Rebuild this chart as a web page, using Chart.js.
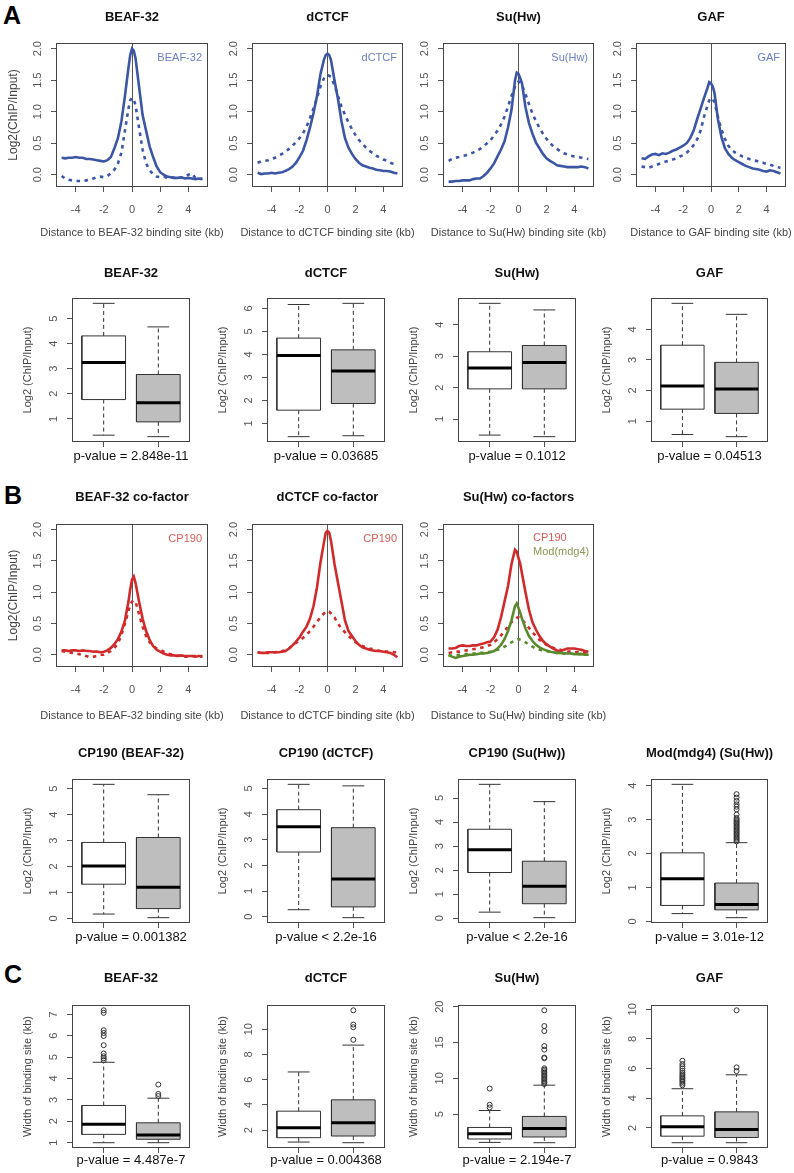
<!DOCTYPE html>
<html>
<head>
<meta charset="utf-8">
<title>Insulator binding profiles</title>
<script src="https://cdn.jsdelivr.net/npm/chart.js@4.4.1/dist/chart.umd.min.js"></script>
<style>
  html, body { margin: 0; padding: 0; background: #fff; }
  body { position: relative; width: 794px; height: 1173px; overflow: hidden; }
  canvas { position: absolute; }
  .panel-tag { position: absolute; font: bold 25px/25px "Liberation Sans", Arial, sans-serif; color: #000; }
</style>
</head>
<body>
<div class="panel-tag" style="left:3px;top:3px">A</div>
<div class="panel-tag" style="left:4px;top:483px">B</div>
<div class="panel-tag" style="left:4px;top:962px">C</div>
<script>
// ---------- data ----------
// distance to the binding site (kb)
const distKb = [-5,-4.75,-4.5,-4.25,-4,-3.75,-3.5,-3.25,-3,-2.75,-2.5,-2.25,-2,-1.75,-1.5,-1.25,-1,-0.75,-0.5,-0.25,
  -0.125,0,0.125,
  0.25,0.5,0.75,1,1.25,1.5,1.75,2,2.25,2.5,2.75,3,3.25,3.5,3.75,4,4.25,4.5,4.75,5];

// A: insulator profiles (solid / dotted)
const beafSolid = [0.27,0.26,0.27,0.27,0.28,0.27,0.27,0.25,0.25,0.24,0.23,0.22,0.21,0.23,0.28,0.42,0.58,0.85,1.25,1.7,1.9,2.0,1.97,1.85,1.4,0.95,0.7,0.45,0.28,0.13,0.04,0.0,-0.03,-0.04,-0.05,-0.05,-0.04,-0.06,-0.05,-0.06,-0.07,-0.06,-0.07];
const beafDotted = [-0.02,-0.06,-0.08,-0.09,-0.1,-0.1,-0.1,-0.09,-0.08,-0.06,-0.04,-0.03,-0.04,-0.02,0.02,0.08,0.18,0.35,0.7,1.05,1.18,1.22,1.2,1.1,0.75,0.4,0.18,0.07,0.01,-0.03,-0.04,-0.03,-0.05,-0.04,-0.05,-0.04,-0.05,-0.03,0.0,0.02,-0.05,-0.07,-0.06];
const ctcfSolid = [0.03,0.01,0.02,0.02,0.03,0.02,0.03,0.04,0.06,0.09,0.13,0.19,0.28,0.38,0.55,0.75,0.98,1.25,1.6,1.83,1.9,1.92,1.9,1.82,1.5,1.2,0.85,0.58,0.43,0.33,0.25,0.19,0.15,0.13,0.11,0.1,0.08,0.07,0.06,0.06,0.05,0.03,0.02];
const ctcfDotted = [0.19,0.21,0.22,0.23,0.25,0.27,0.3,0.33,0.37,0.41,0.46,0.52,0.58,0.66,0.76,0.9,1.05,1.22,1.4,1.53,1.57,1.58,1.57,1.55,1.42,1.25,1.08,0.95,0.83,0.72,0.63,0.55,0.49,0.43,0.38,0.34,0.3,0.27,0.24,0.22,0.19,0.17,0.15];
const suhwSolid = [-0.11,-0.11,-0.1,-0.1,-0.09,-0.09,-0.09,-0.07,-0.06,-0.06,-0.02,0.03,0.1,0.18,0.29,0.4,0.53,0.75,1.03,1.5,1.62,1.6,1.53,1.45,1.07,0.82,0.65,0.51,0.42,0.33,0.26,0.22,0.19,0.15,0.14,0.13,0.12,0.12,0.12,0.12,0.13,0.12,0.1];
const suhwDotted = [0.22,0.25,0.27,0.28,0.3,0.31,0.33,0.35,0.38,0.41,0.45,0.5,0.55,0.62,0.7,0.8,0.92,1.08,1.25,1.4,1.45,1.48,1.46,1.42,1.28,1.12,0.97,0.85,0.74,0.65,0.57,0.5,0.45,0.41,0.37,0.34,0.32,0.3,0.29,0.28,0.27,0.26,0.25];
const gafSolid = [0.26,0.25,0.29,0.32,0.33,0.31,0.34,0.33,0.35,0.38,0.4,0.43,0.46,0.5,0.58,0.7,0.88,1.05,1.22,1.38,1.47,1.45,1.4,1.3,0.88,0.6,0.42,0.33,0.27,0.23,0.2,0.17,0.14,0.12,0.1,0.09,0.08,0.06,0.05,0.07,0.06,0.04,0.02];
const gafDotted = [0.13,0.12,0.11,0.13,0.15,0.17,0.19,0.21,0.22,0.24,0.26,0.29,0.31,0.35,0.4,0.47,0.56,0.7,0.92,1.1,1.18,1.22,1.2,1.15,0.92,0.72,0.57,0.46,0.39,0.35,0.32,0.29,0.27,0.25,0.23,0.22,0.2,0.19,0.17,0.16,0.14,0.12,0.11];

// B: co-factor profiles
const cpBeafSolid = [0.07,0.07,0.06,0.07,0.07,0.06,0.07,0.06,0.06,0.05,0.05,0.04,0.05,0.07,0.11,0.17,0.25,0.37,0.55,0.85,1.05,1.2,1.25,1.15,0.85,0.58,0.38,0.24,0.14,0.08,0.05,0.02,0.0,-0.01,-0.01,-0.02,-0.01,-0.02,-0.02,-0.02,-0.03,-0.02,-0.02];
const cpBeafDotted = [0.06,0.05,0.04,0.03,0.02,0.01,0.0,-0.02,-0.04,-0.03,-0.02,0.0,0.0,0.03,0.06,0.11,0.18,0.32,0.5,0.7,0.8,0.85,0.87,0.85,0.65,0.45,0.3,0.2,0.15,0.1,0.08,0.05,0.02,0.01,0.0,-0.01,-0.02,-0.03,-0.03,-0.02,-0.02,-0.03,-0.03];
const cpCtcfSolid = [0.04,0.03,0.03,0.04,0.04,0.04,0.04,0.05,0.06,0.1,0.15,0.21,0.28,0.37,0.45,0.58,0.78,1.08,1.48,1.8,1.95,1.98,1.95,1.82,1.45,1.15,0.85,0.55,0.38,0.3,0.22,0.16,0.12,0.1,0.08,0.07,0.06,0.06,0.05,0.04,0.03,0.0,-0.04];
const cpCtcfDotted = [0.04,0.03,0.03,0.03,0.03,0.04,0.05,0.06,0.07,0.1,0.15,0.19,0.23,0.27,0.32,0.38,0.45,0.53,0.6,0.66,0.69,0.7,0.69,0.66,0.6,0.5,0.42,0.36,0.3,0.25,0.2,0.17,0.14,0.12,0.1,0.09,0.07,0.06,0.06,0.05,0.05,0.04,0.04];
const cpSuhwSolid = [0.1,0.1,0.11,0.14,0.15,0.14,0.14,0.15,0.15,0.17,0.18,0.2,0.21,0.28,0.4,0.6,0.85,1.1,1.45,1.68,1.65,1.55,1.45,1.3,1.0,0.72,0.52,0.4,0.3,0.22,0.17,0.13,0.1,0.07,0.06,0.08,0.1,0.1,0.1,0.09,0.08,0.06,0.05];
const cpSuhwDotted = [0.03,0.04,0.05,0.05,0.06,0.07,0.08,0.09,0.1,0.11,0.12,0.14,0.16,0.2,0.25,0.31,0.38,0.45,0.52,0.57,0.59,0.6,0.59,0.56,0.5,0.43,0.36,0.3,0.24,0.2,0.16,0.13,0.11,0.09,0.08,0.06,0.05,0.05,0.04,0.04,0.03,0.03,0.02];
const modSuhwSolid = [0.0,-0.03,-0.05,-0.03,-0.02,-0.01,0.0,0.0,0.01,0.02,0.02,0.03,0.04,0.06,0.1,0.16,0.25,0.38,0.55,0.78,0.82,0.75,0.67,0.58,0.42,0.3,0.22,0.16,0.12,0.09,0.07,0.05,0.04,0.03,0.03,0.02,0.02,0.02,0.01,0.01,0.01,0.0,0.0];
const modSuhwDotted = [-0.02,-0.01,-0.01,0.0,0.0,0.01,0.01,0.02,0.02,0.03,0.03,0.04,0.05,0.06,0.08,0.1,0.13,0.16,0.2,0.23,0.24,0.25,0.24,0.23,0.2,0.16,0.13,0.1,0.08,0.07,0.06,0.05,0.04,0.03,0.03,0.02,0.02,0.02,0.01,0.01,0.01,0.0,0.0];

const profileTicks = [0, 0.5, 1, 1.5, 2];
const distTicks = [-4, -2, 0, 2, 4];

// boxplots: [lower whisker, Q1, median, Q3, upper whisker] for the white and grey box
const sigBeaf = [[0.35,1.77,3.25,4.31,5.61],[0.29,0.88,1.64,2.77,4.67]];
const sigCtcf = [[0.43,1.58,3.96,4.71,6.17],[0.47,1.87,3.28,4.2,6.22]];
const sigSuhw = [[0.49,1.96,2.62,3.14,4.68],[0.44,1.96,2.8,3.34,4.47]];
const sigGaf = [[0.56,1.39,2.15,3.48,4.85],[0.49,1.25,2.05,2.92,4.49]];
const sigBeafTicks = [1,2,3,4,5];
const sigCtcfTicks = [1,2,3,4,5,6];
const sigSuhwTicks = [1,2,3,4];
const sigGafTicks = [1,2,3,4];

const cpBeaf = [[0.17,1.32,2.02,2.93,5.17],[0.03,0.38,1.2,3.12,4.77]];
const cpCtcf = [[0.27,2.52,3.51,4.17,5.16],[-0.04,0.38,1.47,3.47,5.1]];
const cpSuhw = [[0.25,1.9,2.85,3.7,5.57],[0.02,0.6,1.33,2.37,4.85]];
const modSuhw = [[0.23,0.47,1.26,2.02,4.04],[0.11,0.34,0.5,1.13,2.32]];
const modSuhwOut = [[],[2.36,2.4,2.44,2.48,2.52,2.56,2.6,2.64,2.68,2.72,2.76,2.8,2.84,2.88,2.92,2.96,3.0,3.05,3.15,3.3,3.38,3.45,3.55,3.65,3.75]];
const cpTicks = [0,1,2,3,4,5];
const modTicks = [0,1,2,3,4];

const widthBeaf = [[1.0,1.39,1.86,2.74,4.76],[1.0,1.16,1.36,1.93,3.08]];
const widthBeafOut = [[4.86,4.95,5.04,5.17,5.56,5.99,6.13,6.26,7.07,7.19],[3.18,3.28,3.72]];
const widthCtcf = [[1.05,1.4,2.19,3.5,6.61],[1.0,1.53,2.58,4.4,8.74]];
const widthCtcfOut = [[],[9.16,10.16,10.37,11.5]];
const widthSuhw = [[1.04,1.52,2.26,3.13,5.5],[1.0,1.8,3.0,4.67,9.04]];
const widthSuhwOut = [[5.92,6.3,8.57],[9.2,9.4,9.6,9.8,10.0,10.2,10.4,10.6,10.8,11.0,11.2,11.4,12.8,12.9,14.0,14.5,16.6,17.3,19.5]];
const widthGaf = [[1.0,1.44,2.07,2.81,4.64],[1.0,1.35,1.89,3.08,5.58]];
const widthGafOut = [[4.87,4.98,5.1,5.2,5.3,5.4,5.5,5.6,5.72,5.85,6.0,6.15,6.3,6.53],[5.83,6.08,9.93]];
const widthBeafTicks = [1,2,3,4,5,6,7];
const widthCtcfTicks = [2,4,6,8,10];
const widthSuhwTicks = [5,10,15,20];
const widthGafTicks = [2,4,6,8,10];

// ---------- layout & style ----------
const FONT = '"Liberation Sans", Arial, Helvetica, sans-serif';
const PAD_L = 60, PAD_T = 40, PAD_R = 40, PAD_B = 56, TICK = 5;
const lineCols = [[56, 208], [252, 403], [443, 594], [636, 786]];
const boxCols = [[72, 190], [267, 385], [458, 576], [651, 768]];
const BLUE = '#3c56a6', BLUE_TXT = '#6b80c4';
const RED = '#d02a2a', RED_TXT = '#dc5a55';
const GREEN = '#5b8a2d', GREEN_TXT = '#8a9a55';
const boxFills = ['#ffffff', '#bebebe'];

Chart.defaults.font.family = FONT;

const measure = document.createElement('canvas').getContext('2d');
function widest(labels, size) {
  measure.font = size + 'px ' + FONT;
  return Math.max(...labels.map(s => measure.measureText(s).width));
}

function makeCanvas(l, r, t, b) {
  const c = document.createElement('canvas');
  c.width = r - l + PAD_L + PAD_R;
  c.height = b - t + PAD_T + PAD_B;
  c.style.left = (l - PAD_L) + 'px';
  c.style.top = (t - PAD_T) + 'px';
  document.body.appendChild(c);
  return c;
}

const framePlugin = {
  id: 'frame',
  afterDatasetsDraw(chart) {
    const {ctx, chartArea: a} = chart;
    ctx.save();
    ctx.strokeStyle = '#444';
    ctx.lineWidth = 1;
    ctx.strokeRect(a.left + 0.5, a.top + 0.5, a.right - a.left - 1, a.bottom - a.top - 1);
    ctx.restore();
  }
};

// panel title, x label (under the plot) and in-plot notes
function textPlugin(t) {
  return {
    id: 'panelText',
    afterDraw(chart) {
      const {ctx, chartArea: a} = chart;
      const cx = (a.left + a.right) / 2;
      ctx.save();
      ctx.textBaseline = 'middle';
      ctx.textAlign = 'center';
      ctx.font = 'bold 13px ' + FONT;
      ctx.fillStyle = '#111';
      ctx.fillText(t.title, cx, a.top - t.titleAbove);
      ctx.font = t.xSize + 'px ' + FONT;
      ctx.fillStyle = t.xColor;
      ctx.fillText(t.xLabel, cx, a.bottom + t.xBelow);
      ctx.font = '11px ' + FONT;
      (t.notes || []).forEach(n => {
        ctx.fillStyle = n.color;
        ctx.textAlign = n.left != null ? 'left' : 'right';
        const x = n.left != null ? a.left + n.left : a.right - n.right;
        ctx.fillText(n.text, x, a.top + n.dy);
      });
      ctx.restore();
    }
  };
}

function yAxis(min, max, ticks, fmt, label, labelSize, labelOff) {
  const labels = ticks.map(fmt);
  return {
    type: 'linear', min, max, bounds: 'data',
    afterBuildTicks: s => { s.ticks = ticks.map(v => ({value: v})); },
    afterFit: s => { s.width = PAD_L; },
    grid: {drawOnChartArea: false, tickColor: '#555', tickLength: TICK},
    border: {display: false},
    ticks: {autoSkip: false, minRotation: 90, maxRotation: 90, crossAlign: 'center',
      color: '#555', font: {size: 11}, padding: 18 - TICK - widest(labels, 11) / 2,
      callback: v => fmt(v)},
    title: {display: !!label, text: label || '', color: '#444', font: {size: labelSize},
      padding: {top: PAD_L - labelOff - labelSize * 0.6, bottom: 0}}
  };
}

function baseOptions() {
  return {
    responsive: false, animation: false, events: [],
    layout: {padding: {left: 0, top: PAD_T, right: PAD_R, bottom: 0}},
    plugins: {legend: {display: false}, tooltip: {enabled: false}, title: {display: false}}
  };
}

function profileChart(spec) {
  const [l, r] = spec.cols;
  const canvas = makeCanvas(l, r, spec.top, spec.bottom);
  const datasets = spec.series.map(s => ({
    data: distKb.map((x, i) => ({x, y: s.vals[i]})),
    borderColor: s.color, borderWidth: 2.6,
    borderDash: s.dotted ? [3.5, 4.5] : [],
    pointRadius: 0, pointHoverRadius: 0, tension: 0, fill: false
  }));
  const options = baseOptions();
  options.scales = {
    x: {
      type: 'linear', min: -5.4, max: 5.4, bounds: 'data',
      afterBuildTicks: s => { s.ticks = distTicks.map(v => ({value: v})); },
      afterFit: s => { s.height = PAD_B; },
      grid: {drawOnChartArea: true, tickColor: '#555', tickLength: TICK,
        color: c => (c.tick && c.tick.value === 0) ? '#555' : 'rgba(0,0,0,0)'},
      border: {display: false},
      ticks: {autoSkip: false, maxRotation: 0, minRotation: 0, color: '#555', font: {size: 11},
        padding: 23 - TICK - 6.6, callback: v => String(v)},
      title: {display: false}
    },
    y: yAxis(-0.195, 2.09, profileTicks, v => v.toFixed(1), spec.yLabel, 12, 42.7)
  };
  new Chart(canvas, {
    type: 'line',
    data: {datasets},
    options,
    plugins: [framePlugin, textPlugin({title: spec.title, titleAbove: spec.titleAbove,
      xLabel: spec.xLabel, xBelow: spec.xLabelBelow, xSize: 11, xColor: '#444', notes: spec.notes})]
  });
}

function seg(points, extra) {
  return Object.assign({
    data: points.map(([x, y]) => ({x, y})),
    borderColor: '#333', borderWidth: 1, pointRadius: 0, pointHoverRadius: 0,
    tension: 0, fill: false
  }, extra);
}

function boxChart(spec) {
  const [l, r] = spec.cols;
  const canvas = makeCanvas(l, r, spec.top, spec.bottom);
  const outliers = spec.outliers || [[], []];
  const all = spec.stats.flat().concat(outliers.flat());
  const lo = Math.min(...all), hi = Math.max(...all), ext = 0.04 * (hi - lo);
  const datasets = [];
  spec.stats.forEach((s, i) => {
    const p = i + 1;
    const [mn, q1, md, q3, mx] = s;
    datasets.push(seg([[p - 0.4, md], [p + 0.4, md]], {borderColor: '#000', borderWidth: 3, order: 0}));
    datasets.push(seg([[p - 0.4, q1], [p + 0.4, q1], [p + 0.4, q3], [p - 0.4, q3], [p - 0.4, q1]],
      {backgroundColor: boxFills[i], fill: 'shape', order: 3}));
    datasets.push(seg([[p, q3], [p, mx]], {borderDash: [4, 3], order: 2}));
    datasets.push(seg([[p, q1], [p, mn]], {borderDash: [4, 3], order: 2}));
    datasets.push(seg([[p - 0.2, mx], [p + 0.2, mx]], {order: 2}));
    datasets.push(seg([[p - 0.2, mn], [p + 0.2, mn]], {order: 2}));
    if (outliers[i].length) {
      datasets.push({
        data: outliers[i].map(y => ({x: p, y})), showLine: false,
        pointRadius: 2.5, pointHoverRadius: 0, pointBorderWidth: 1,
        pointBorderColor: '#333', pointBackgroundColor: 'rgba(0,0,0,0)', order: 1
      });
    }
  });
  const options = baseOptions();
  options.scales = {
    x: {
      type: 'linear', min: 0.42, max: 2.58, bounds: 'data',
      afterBuildTicks: s => { s.ticks = [1, 2].map(v => ({value: v})); },
      afterFit: s => { s.height = PAD_B; },
      grid: {drawOnChartArea: false, tickColor: '#555', tickLength: TICK},
      border: {display: false},
      ticks: {autoSkip: false, maxRotation: 0, callback: () => ''},
      title: {display: false}
    },
    y: yAxis(lo - ext, hi + ext, spec.ticks, v => String(v), spec.yLabel, 11, 43.8)
  };
  new Chart(canvas, {
    type: 'line',
    data: {datasets},
    options,
    plugins: [framePlugin, textPlugin({title: spec.title, titleAbove: spec.titleAbove,
      xLabel: spec.pLabel, xBelow: spec.pBelow, xSize: 13, xColor: '#111'})]
  });
}

// ---------- row A: profiles ----------
const rowA = {top: 43, bottom: 187, titleAbove: 25.7, xLabelBelow: 46.3};
[
  {title: 'BEAF-32', s: beafSolid, d: beafDotted, yLabel: 'Log2(ChIP/Input)'},
  {title: 'dCTCF', s: ctcfSolid, d: ctcfDotted},
  {title: 'Su(Hw)', s: suhwSolid, d: suhwDotted},
  {title: 'GAF', s: gafSolid, d: gafDotted}
].forEach((p, i) => profileChart({
  cols: lineCols[i], top: rowA.top, bottom: rowA.bottom, title: p.title, titleAbove: rowA.titleAbove,
  xLabel: 'Distance to ' + p.title + ' binding site (kb)', xLabelBelow: rowA.xLabelBelow, yLabel: p.yLabel,
  series: [{vals: p.s, color: BLUE}, {vals: p.d, color: BLUE, dotted: true}],
  notes: [{text: p.title, color: BLUE_TXT, right: 6, dy: 15.3}]
}));

// ---------- row A: signal boxplots ----------
const rowA2 = {top: 298, bottom: 442, titleAbove: 24.7, pBelow: 14.4};
[
  {title: 'BEAF-32', stats: sigBeaf, ticks: sigBeafTicks, p: 'p-value = 2.848e-11'},
  {title: 'dCTCF', stats: sigCtcf, ticks: sigCtcfTicks, p: 'p-value = 0.03685'},
  {title: 'Su(Hw)', stats: sigSuhw, ticks: sigSuhwTicks, p: 'p-value = 0.1012'},
  {title: 'GAF', stats: sigGaf, ticks: sigGafTicks, p: 'p-value = 0.04513'}
].forEach((b, i) => boxChart({
  cols: boxCols[i], top: rowA2.top, bottom: rowA2.bottom, title: b.title, titleAbove: rowA2.titleAbove,
  stats: b.stats, ticks: b.ticks, yLabel: 'Log2 (ChIP/Input)', pLabel: b.p, pBelow: rowA2.pBelow
}));

// ---------- row B: co-factor profiles ----------
const rowB = {top: 524, bottom: 667, titleAbove: 26.7, xLabelBelow: 49};
profileChart({
  cols: lineCols[0], top: rowB.top, bottom: rowB.bottom, title: 'BEAF-32 co-factor', titleAbove: rowB.titleAbove,
  xLabel: 'Distance to BEAF-32 binding site (kb)', xLabelBelow: rowB.xLabelBelow, yLabel: 'Log2(ChIP/Input)',
  series: [{vals: cpBeafSolid, color: RED}, {vals: cpBeafDotted, color: RED, dotted: true}],
  notes: [{text: 'CP190', color: RED_TXT, right: 6, dy: 15.3}]
});
profileChart({
  cols: lineCols[1], top: rowB.top, bottom: rowB.bottom, title: 'dCTCF co-factor', titleAbove: rowB.titleAbove,
  xLabel: 'Distance to dCTCF binding site (kb)', xLabelBelow: rowB.xLabelBelow,
  series: [{vals: cpCtcfSolid, color: RED}, {vals: cpCtcfDotted, color: RED, dotted: true}],
  notes: [{text: 'CP190', color: RED_TXT, right: 6, dy: 15.3}]
});
profileChart({
  cols: lineCols[2], top: rowB.top, bottom: rowB.bottom, title: 'Su(Hw) co-factors', titleAbove: rowB.titleAbove,
  xLabel: 'Distance to Su(Hw) binding site (kb)', xLabelBelow: rowB.xLabelBelow,
  series: [
    {vals: modSuhwSolid, color: GREEN},
    {vals: cpSuhwSolid, color: RED},
    {vals: modSuhwDotted, color: GREEN, dotted: true},
    {vals: cpSuhwDotted, color: RED, dotted: true}
  ],
  notes: [
    {text: 'CP190', color: RED_TXT, left: 90, dy: 14.3},
    {text: 'Mod(mdg4)', color: GREEN_TXT, left: 90, dy: 27.7}
  ]
});

// ---------- row B: co-factor boxplots ----------
const rowB2 = {top: 779, bottom: 923, titleAbove: 25.7, pBelow: 14};
[
  {title: 'CP190 (BEAF-32)', stats: cpBeaf, ticks: cpTicks, p: 'p-value = 0.001382'},
  {title: 'CP190 (dCTCF)', stats: cpCtcf, ticks: cpTicks, p: 'p-value < 2.2e-16'},
  {title: 'CP190 (Su(Hw))', stats: cpSuhw, ticks: cpTicks, p: 'p-value < 2.2e-16'},
  {title: 'Mod(mdg4) (Su(Hw))', stats: modSuhw, out: modSuhwOut, ticks: modTicks, p: 'p-value = 3.01e-12'}
].forEach((b, i) => boxChart({
  cols: boxCols[i], top: rowB2.top, bottom: rowB2.bottom, title: b.title, titleAbove: rowB2.titleAbove,
  stats: b.stats, outliers: b.out, ticks: b.ticks, yLabel: 'Log2 (ChIP/Input)', pLabel: b.p, pBelow: rowB2.pBelow
}));

// ---------- row C: binding-site widths ----------
const rowC = {top: 1005, bottom: 1148, titleAbove: 26.7, pBelow: 12};
[
  {title: 'BEAF-32', stats: widthBeaf, out: widthBeafOut, ticks: widthBeafTicks, p: 'p-value = 4.487e-7'},
  {title: 'dCTCF', stats: widthCtcf, out: widthCtcfOut, ticks: widthCtcfTicks, p: 'p-value = 0.004368'},
  {title: 'Su(Hw)', stats: widthSuhw, out: widthSuhwOut, ticks: widthSuhwTicks, p: 'p-value = 2.194e-7'},
  {title: 'GAF', stats: widthGaf, out: widthGafOut, ticks: widthGafTicks, p: 'p-value = 0.9843'}
].forEach((b, i) => boxChart({
  cols: boxCols[i], top: rowC.top, bottom: rowC.bottom, title: b.title, titleAbove: rowC.titleAbove,
  stats: b.stats, outliers: b.out, ticks: b.ticks, yLabel: 'Width of binding site (kb)', pLabel: b.p, pBelow: rowC.pBelow
}));
</script>
</body>
</html>
